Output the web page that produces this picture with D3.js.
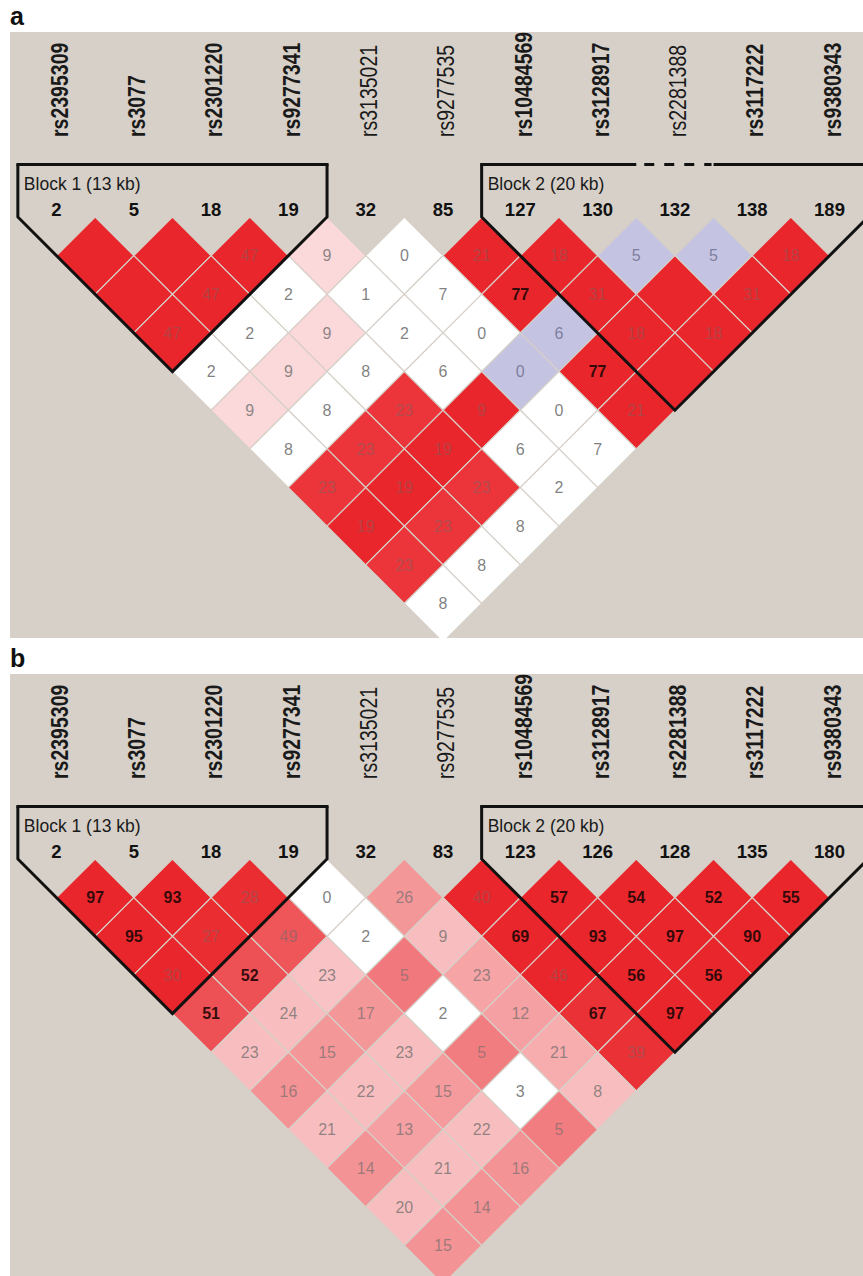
<!DOCTYPE html>
<html>
<head>
<meta charset="utf-8">
<script src="https://cdn.jsdelivr.net/npm/d3@7"></script>
<style>
  html, body { margin: 0; padding: 0; background: #ffffff; }
  svg { display: block; }
</style>
</head>
<body>
<svg id="chart" width="863" height="1276"></svg>
<script>
// SNP markers along the region (shared by both panels)
const snps = ["rs2395309", "rs3077", "rs2301220", "rs9277341", "rs3135021", "rs9277535",
              "rs10484569", "rs3128917", "rs2281388", "rs3117222", "rs9380343"];

// 1 = marker name drawn bold, 0 = regular
const snpBoldA = [1, 1, 1, 1, 0, 0, 1, 1, 0, 1, 1];
const snpBoldB = [1, 1, 1, 1, 0, 0, 1, 1, 1, 1, 1];

// marker numbers printed above the triangle
const numbersA = ["2", "5", "18", "19", "32", "85", "127", "130", "132", "138", "189"];
const numbersB = ["2", "5", "18", "19", "32", "83", "123", "126", "128", "135", "180"];

// pairwise LD values, one row per marker distance k (cell i pairs marker i with marker i+k);
// null = complete LD, no number printed
const ldA = [
  [null, null, 47, 9, 0, 21, 18, 5, 5, 18],
  [null, 47, 2, 1, 7, 77, 31, null, 31],
  [47, 2, 9, 2, 0, 6, 18, 18],
  [2, 9, 8, 6, 0, 77, null],
  [9, 8, 23, 9, 0, 21],
  [8, 23, 19, 6, 7],
  [23, 19, 23, 2],
  [19, 23, 8],
  [23, 8],
  [8]
];
// cell shading: 0 = white ... 1 = full red, "L" = low-confidence (lavender)
const shadeA = [
  [1, 1, 1, 0.18, 0, 1, 1, "L", "L", 1],
  [1, 1, 0, 0, 0, 1, 1, 1, 1],
  [1, 0, 0.18, 0, 0, "L", 1, 1],
  [0, 0.18, 0, 0, "L", 1, 1],
  [0.18, 0, 0.93, 1, 0, 1],
  [0, 0.93, 1, 0, 0],
  [0.93, 1, 0.93, 0],
  [1, 0.93, 0],
  [0.93, 0],
  [0]
];

const ldB = [
  [97, 93, 28, 0, 26, 40, 57, 54, 52, 55],
  [95, 27, 49, 2, 9, 69, 93, 97, 90],
  [30, 52, 23, 5, 23, 46, 56, 56],
  [51, 24, 17, 2, 12, 67, 97],
  [23, 15, 23, 5, 21, 39],
  [16, 22, 15, 3, 8],
  [21, 13, 22, 5],
  [14, 21, 16],
  [20, 14],
  [15]
];
const shadeB = [
  [1, 1, 0.97, 0, 0.48, 1, 1, 1, 1, 1],
  [1, 0.97, 0.78, 0, 0.3, 1, 1, 1, 1],
  [1, 0.8, 0.28, 0.62, 0.42, 1, 1, 1],
  [0.8, 0.3, 0.48, 0, 0.44, 0.95, 1],
  [0.3, 0.48, 0.3, 0.6, 0.38, 0.95],
  [0.5, 0.3, 0.46, 0, 0.3],
  [0.3, 0.44, 0.3, 0.6],
  [0.5, 0.3, 0.5],
  [0.3, 0.5],
  [0.5]
];

// haplotype blocks: first/last marker index and caption
const blocksA = [
  { from: 0, to: 3, label: "Block 1 (13 kb)", gap: null },
  { from: 6, to: 10, label: "Block 2 (20 kb)", gap: 8 }
];
const blocksB = [
  { from: 0, to: 3, label: "Block 1 (13 kb)", gap: null },
  { from: 6, to: 10, label: "Block 2 (20 kb)", gap: null }
];

const panels = [
  { tag: "a", top: 0, bold: snpBoldA, numbers: numbersA, ld: ldA, shade: shadeA, blocks: blocksA },
  { tag: "b", top: 642, bold: snpBoldB, numbers: numbersB, ld: ldB, shade: shadeB, blocks: blocksB }
];

const W = 863, H = 1276;
const BG = "#d6d0c8";
const RED = "#e9262b";
const LAV = "#c4c4e2";
const FONT = "'Liberation Sans', Arial, sans-serif";

const svg = d3.select("#chart");
svg.append("rect").attr("width", W).attr("height", H).attr("fill", "#ffffff");

// marker index -> horizontal position
const x = d3.scaleLinear().domain([0, snps.length - 1]).range([56.5, 829.5]);
const h = (x(1) - x(0)) / 2;          // half diagonal of a cell
const diamondTop = 217;               // top vertex of the first row of cells
// marker distance -> vertical position of a cell centre
const yRow = d3.scaleLinear().domain([0, 1]).range([diamondTop, diamondTop + h]);
const redScale = d3.interpolateRgb("#ffffff", RED);

function cellColor(s) {
  return s === "L" ? LAV : redScale(s);
}

panels.forEach((p, pi) => {
  const g = svg.append("g").attr("transform", `translate(0,${p.top})`);
  const panelY = 32, panelH = pi === 0 ? 606 : 640;

  const clipId = "clip-" + p.tag;
  g.append("clipPath").attr("id", clipId)
    .append("rect").attr("x", 10).attr("y", panelY).attr("width", W - 10).attr("height", panelH);

  // panel letter
  g.append("text")
    .attr("x", 10).attr("y", 25)
    .attr("font-family", FONT).attr("font-weight", "bold").attr("font-size", 25)
    .attr("fill", "#111")
    .text(p.tag);

  const body = g.append("g").attr("clip-path", `url(#${clipId})`);
  body.append("rect")
    .attr("x", 10).attr("y", panelY).attr("width", W - 10).attr("height", panelH)
    .attr("fill", BG);

  // marker names (tall, narrow lettering)
  body.selectAll("text.snp").data(snps).enter().append("text")
    .attr("class", "snp")
    .attr("transform", (d, i) => `translate(${x(i) + 3},137) rotate(-90) scale(1,1.22)`)
    .attr("dominant-baseline", "central")
    .attr("font-family", FONT)
    .attr("font-size", 19.5)
    .attr("font-weight", (d, i) => p.bold[i] ? "bold" : "normal")
    .attr("fill", "#1a1a1a")
    .text(d => d);

  // marker numbers
  body.selectAll("text.num").data(p.numbers).enter().append("text")
    .attr("class", "num")
    .attr("x", (d, i) => x(i)).attr("y", 215.5)
    .attr("text-anchor", "middle")
    .attr("font-family", FONT).attr("font-weight", "bold").attr("font-size", 18.5)
    .attr("fill", "#111")
    .text(d => d);

  // flatten the LD rows into cells
  const cells = [];
  p.ld.forEach((row, r) => {
    const k = r + 1;
    row.forEach((v, i) => {
      cells.push({ i, j: i + k, k, v, s: p.shade[r][i] });
    });
  });

  const cg = body.selectAll("g.cell").data(cells).enter().append("g")
    .attr("class", "cell")
    .attr("transform", d => `translate(${(x(d.i) + x(d.j)) / 2},${yRow(d.k)})`);

  cg.append("path")
    .attr("d", `M0,${-h}L${h},0L0,${h}L${-h},0Z`)
    .attr("fill", d => cellColor(d.s))
    .attr("stroke", BG).attr("stroke-width", 1.2);

  cg.filter(d => d.v !== null).append("text")
    .attr("text-anchor", "middle")
    .attr("dy", "0.36em")
    .attr("font-family", FONT).attr("font-size", 16)
    .attr("font-weight", d => d.v >= 50 ? "bold" : "normal")
    .attr("fill", d => d.v >= 50 ? "#2a0808" : (d.s === "L" ? "#707090" : "#6a6a6a"))
    .attr("fill-opacity", d => d.v >= 50 ? 0.95 : (d.s === "L" ? 0.85 : 0.85 - 0.42 * d.s))
    .text(d => d.v);

  // haplotype block outlines
  p.blocks.forEach(b => {
    const left = x(b.from) - h, right = x(b.to) + h;
    const bx = (x(b.from) + x(b.to)) / 2, by = yRow(b.to - b.from + 1);
    const topY = 164.5;
    const lw = 3;
    const sides = d3.path();
    sides.moveTo(left, topY);
    sides.lineTo(left, diamondTop);
    sides.lineTo(bx, by);
    sides.lineTo(right, diamondTop);
    sides.lineTo(right, topY);
    body.append("path").attr("d", sides.toString())
      .attr("fill", "none").attr("stroke", "#111").attr("stroke-width", lw)
      .attr("stroke-linejoin", "miter");

    if (b.gap === null) {
      body.append("line")
        .attr("x1", left - lw / 2).attr("x2", right + lw / 2)
        .attr("y1", topY).attr("y2", topY)
        .attr("stroke", "#111").attr("stroke-width", lw);
    } else {
      const gl = x(b.gap) - h, gr = x(b.gap) + h;
      body.append("line")
        .attr("x1", left - lw / 2).attr("x2", gl).attr("y1", topY).attr("y2", topY)
        .attr("stroke", "#111").attr("stroke-width", lw);
      body.append("line")
        .attr("x1", gl + 8).attr("x2", gr - 2).attr("y1", topY).attr("y2", topY)
        .attr("stroke", "#111").attr("stroke-width", lw)
        .attr("stroke-dasharray", "10,10");
      body.append("line")
        .attr("x1", gr).attr("x2", right + lw / 2).attr("y1", topY).attr("y2", topY)
        .attr("stroke", "#111").attr("stroke-width", lw);
    }

    body.append("text")
      .attr("x", left + 6).attr("y", 190)
      .attr("font-family", FONT).attr("font-size", 17.5)
      .attr("fill", "#1a1a1a")
      .text(b.label);
  });
});
</script>
</body>
</html>
